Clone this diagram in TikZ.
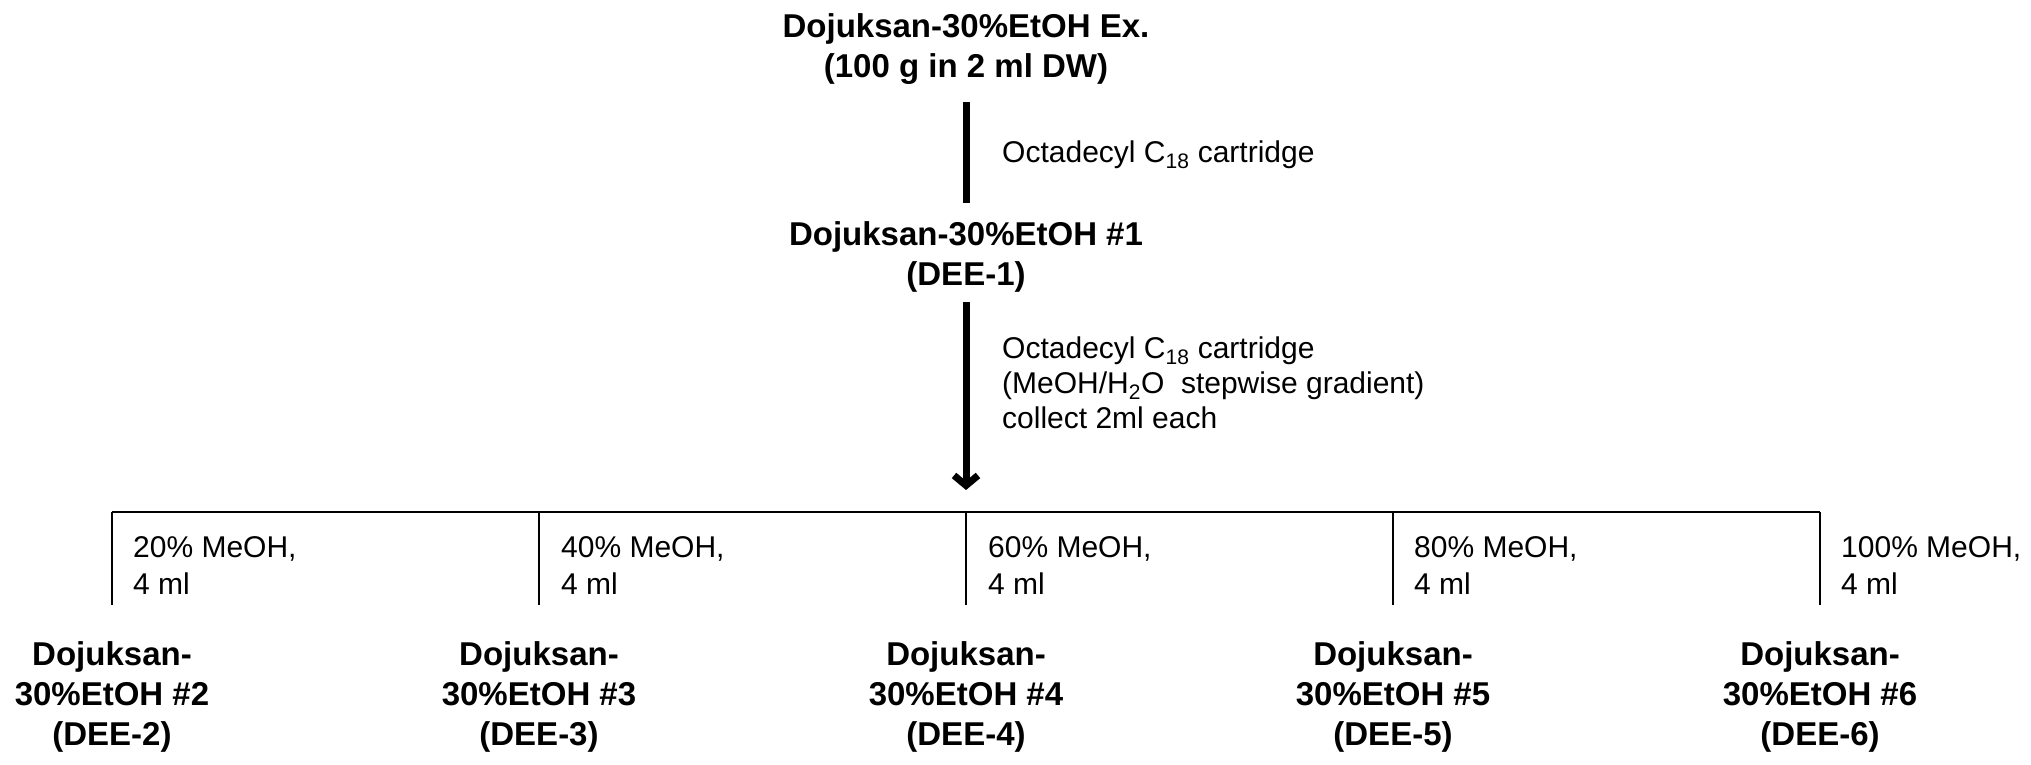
\documentclass[tikz,border=0pt]{standalone}
\usepackage{fontspec}
\setmainfont{Liberation Sans}
\usetikzlibrary{arrows.meta}
\begin{document}
\begin{tikzpicture}[x=1pt,y=1pt,
  boldtxt/.style={font=\fontsize{33}{40}\selectfont\bfseries, align=center, inner sep=0pt, anchor=base},
  regtxt/.style={font=\fontsize{30}{35}\selectfont, align=left, inner sep=0pt, anchor=base west},
  solvtxt/.style={font=\fontsize{30}{37}\selectfont, align=left, inner sep=0pt, anchor=base west},
  thickline/.style={line width=7pt},
  thinline/.style={line width=2pt},
  bigarrow/.style={line width=7pt, -{Straight Barb[length=10pt,width=24pt]}}
]
\useasboundingbox (0,0) rectangle (2031,-764);

% top nodes (anchor base = last line's baseline)
\node[boldtxt] (top) at (966,-77) {Dojuksan-30\%EtOH Ex.\\(100 g in 2 ml DW)};
\node[boldtxt] (dee1) at (966,-285) {Dojuksan-30\%EtOH \#1\\(DEE-1)};

\node[regtxt] (lab1) at (1002,-162) {Octadecyl C\textsubscript{18} cartridge};
\node[regtxt] (lab2) at (1002,-428) {Octadecyl C\textsubscript{18} cartridge\\(MeOH/H\textsubscript{2}O\ \ stepwise gradient)\\collect 2ml each};

% bus coordinates
\coordinate (b1) at (112,-512);
\coordinate (b2) at (539,-512);
\coordinate (b3) at (966,-512);
\coordinate (b4) at (1393,-512);
\coordinate (b5) at (1820,-512);

\draw[thickline] ([yshift=-18pt]top.south) -- ([yshift=18pt]dee1.north);
\draw[bigarrow] ([yshift=-10pt]dee1.south) -- ([yshift=22pt]b3);

\draw[thinline] (b1) -- (b5);

% solvent labels
\node[solvtxt] (s1) at (133,-594) {20\% MeOH,\\4 ml};
\node[solvtxt] (s2) at (561,-594) {40\% MeOH,\\4 ml};
\node[solvtxt] (s3) at (988,-594) {60\% MeOH,\\4 ml};
\node[solvtxt] (s4) at (1414,-594) {80\% MeOH,\\4 ml};
\node[solvtxt] (s5) at (1841,-594) {100\% MeOH,\\4 ml};

% products
\node[boldtxt] (p2) at (112,-745) {Dojuksan-\\30\%EtOH \#2\\(DEE-2)};
\node[boldtxt] (p3) at (539,-745) {Dojuksan-\\30\%EtOH \#3\\(DEE-3)};
\node[boldtxt] (p4) at (966,-745) {Dojuksan-\\30\%EtOH \#4\\(DEE-4)};
\node[boldtxt] (p5) at (1393,-745) {Dojuksan-\\30\%EtOH \#5\\(DEE-5)};
\node[boldtxt] (p6) at (1820,-745) {Dojuksan-\\30\%EtOH \#6\\(DEE-6)};

\foreach \i/\p in {b1/p2,b2/p3,b3/p4,b4/p5,b5/p6}
  \draw[thinline] (\i) -- ([yshift=36pt]\p.north);
\end{tikzpicture}
\end{document}
